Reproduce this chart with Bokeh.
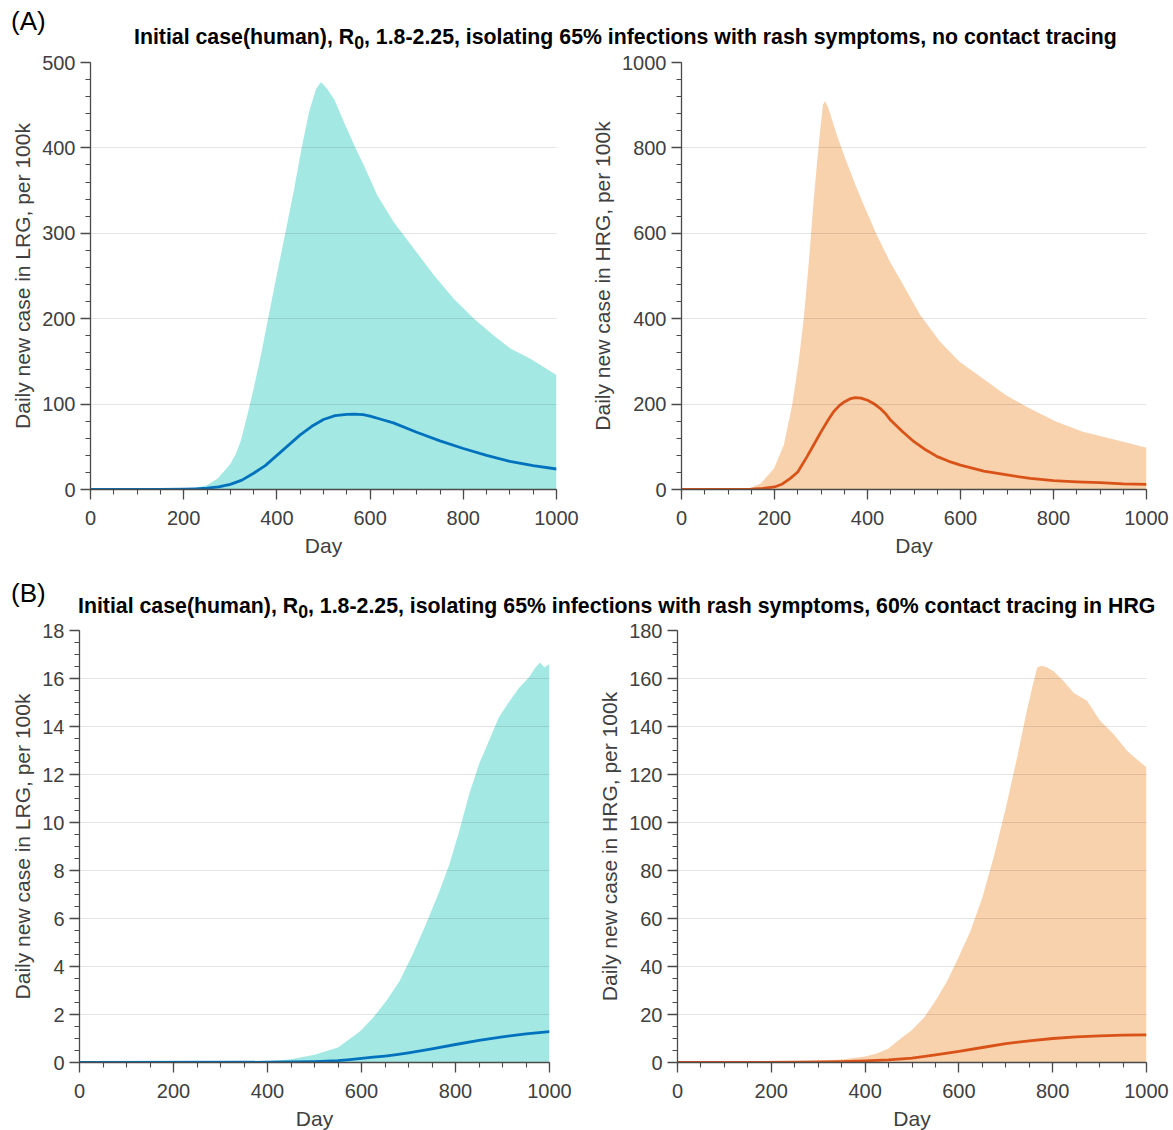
from bokeh.plotting import figure
from bokeh.layouts import column, row
from bokeh.models import Div, Range1d, FixedTicker
from bokeh.embed import file_html
from bokeh.resources import INLINE

# ---------------- data ----------------
# Panel A, LRG
a_lrg_band_day = [0, 100, 150, 200, 216, 250, 273, 300, 312, 323, 337, 350, 366, 381, 400, 418, 437, 453, 469, 484, 494,
                  500, 508, 523, 544, 566, 587, 616, 651, 694, 737, 780, 823, 866, 901, 944, 1000]
a_lrg_band_val = [0, 0, 0.2, 0.6, 1, 5, 13, 30, 42, 58, 88, 118, 158, 200, 252, 300, 352, 400, 442, 469, 477,
                  474, 469, 457, 430, 403, 379, 344, 313, 282, 251, 223, 200, 180, 165, 153, 134]
a_lrg_med_day = [0, 150, 200, 225, 250, 275, 300, 325, 350, 375, 400, 425, 450, 475, 500, 525, 550, 566, 585, 600,
                 625, 650, 700, 750, 800, 850, 900, 950, 1000]
a_lrg_med_val = [0, 0.1, 0.4, 0.8, 1.5, 3, 6, 11, 19, 28, 40, 52, 64, 74, 82, 86.5, 88, 88.3, 87.6, 86,
                 82, 78, 67, 57, 48, 40, 33, 28, 24]

# Panel A, HRG
a_hrg_band_day = [0, 100, 127, 150, 170, 199, 220, 238, 252, 263, 274, 284, 295, 304, 309, 316, 334, 352, 377, 398,
                  420, 448, 477, 513, 556, 598, 648, 698, 748, 805, 863, 920, 1000]
a_hrg_band_val = [0, 0, 1, 4, 14, 49, 104, 198, 299, 401, 534, 674, 807, 901, 909, 893, 830, 776, 705, 651,
                  596, 534, 479, 409, 346, 299, 260, 221, 190, 159, 135, 120, 98]
a_hrg_med_day = [0, 100, 150, 175, 200, 217, 234, 250, 270, 285, 300, 315, 327, 340, 350, 362, 373, 386, 400, 415,
                 427, 440, 450, 475, 500, 525, 550, 575, 600, 650, 700, 750, 800, 850, 900, 950, 1000]
a_hrg_med_val = [0, 0.1, 1, 2.5, 6, 13, 26, 41, 77, 106, 135, 162, 182, 197, 205, 212, 215, 214, 209, 200,
                 190, 176, 162, 136, 112, 93, 77, 66, 57, 43, 34, 26, 21, 18, 16, 13, 12]

# Panel B, LRG
b_lrg_band_day = [0, 300, 350, 400, 450, 500, 550, 597, 625, 653, 681, 709, 737, 766, 787, 808, 829, 850, 871, 892,
                  913, 935, 956, 970, 980, 989, 1000]
b_lrg_band_val = [0, 0.01, 0.02, 0.05, 0.14, 0.32, 0.63, 1.3, 1.88, 2.57, 3.40, 4.51, 5.76, 7.15, 8.26, 9.65,
                  11.18, 12.43, 13.40, 14.38, 15.0, 15.6, 16.04, 16.46, 16.67, 16.46, 16.6]
b_lrg_med_day = [0, 400, 450, 500, 550, 575, 600, 625, 650, 675, 700, 725, 750, 800, 850, 900, 950, 1000]
b_lrg_med_val = [0, 0.01, 0.02, 0.04, 0.08, 0.12, 0.17, 0.22, 0.27, 0.33, 0.4, 0.48, 0.57, 0.75, 0.92, 1.07, 1.19, 1.29]

# Panel B, HRG
b_hrg_band_day = [0, 200, 250, 300, 350, 400, 425, 450, 476, 500, 526, 550, 575, 599, 625, 650, 674, 700, 724, 742,
                  756, 767, 777, 788, 802, 823, 845, 873, 901, 930, 958, 979, 1000]
b_hrg_band_val = [0, 0.1, 0.3, 0.7, 1.3, 2.5, 3.8, 5.8, 10, 13.5, 18.75, 25.7, 34.0, 43.75, 54.9, 68.75, 85.4, 106,
                  127, 144, 156, 164.6, 165.3, 164.6, 163, 159, 154, 150.7, 142.4, 136.8, 130, 126.4, 123]
b_hrg_med_day = [0, 250, 300, 350, 400, 450, 500, 550, 600, 650, 700, 750, 800, 850, 900, 950, 1000]
b_hrg_med_val = [0, 0.1, 0.2, 0.4, 0.7, 1.1, 1.8, 3.2, 4.6, 6.25, 7.9, 9.0, 10.0, 10.7, 11.1, 11.4, 11.5]

x_ticks = [0, 200, 400, 600, 800, 1000]
x_minor = list(range(0, 1001, 50))

title_a = "Initial case(human), R<sub>0</sub>, 1.8-2.25, isolating 65% infections with rash symptoms, no contact tracing"
title_b = "Initial case(human), R<sub>0</sub>, 1.8-2.25, isolating 65% infections with rash symptoms, 60% contact tracing in HRG"

FONT = "Liberation Sans"
AX = "#4a4a4a"
LRG_FILL, LRG_LINE = "#a4e8e4", "#0072bd"
HRG_FILL, HRG_LINE = "#f8d1ad", "#d95319"


def make_fig(fw, fh, bl, br, bt, bb, ymax, ystep, yminor_step, ylabel,
             band_x, band_y, med_x, med_y, fill, line):
    p = figure(frame_width=fw, frame_height=fh,
               min_border_left=bl, min_border_right=br, min_border_top=bt, min_border_bottom=bb,
               x_range=Range1d(0, 1000), y_range=Range1d(0, ymax),
               output_backend="svg", toolbar_location=None)
    p.varea(x=band_x, y1=0, y2=band_y, fill_color=fill, fill_alpha=1.0)
    p.line(med_x, med_y, line_color=line, line_width=2.8, line_join="round")

    nmaj = int(round(ymax / ystep))
    yt = [i * ystep for i in range(nmaj + 1)]
    nmin = int(round(ymax / yminor_step))
    ym = [i * yminor_step for i in range(nmin + 1)]
    p.xaxis.ticker = FixedTicker(ticks=x_ticks, minor_ticks=x_minor)
    p.yaxis.ticker = FixedTicker(ticks=yt, minor_ticks=ym)

    for ax in (p.xaxis[0], p.yaxis[0]):
        ax.axis_line_color = AX
        ax.axis_line_width = 1.3
        ax.major_tick_line_color = AX
        ax.minor_tick_line_color = AX
        ax.major_tick_line_width = 1.3
        ax.minor_tick_line_width = 1.1
        ax.major_tick_out = 10
        ax.major_tick_in = 0
        ax.minor_tick_out = 5
        ax.minor_tick_in = 0
        ax.major_label_text_font = FONT
        ax.major_label_text_font_size = "20px"
        ax.major_label_text_color = "#404040"
        ax.axis_label_text_font = FONT
        ax.axis_label_text_font_size = "21px"
        ax.axis_label_text_font_style = "normal"
        ax.axis_label_text_color = "#404040"
    p.xaxis.axis_label = "Day"
    p.xaxis.major_label_standoff = 11
    p.xaxis.axis_label_standoff = 6
    p.yaxis.axis_label = ylabel
    p.yaxis.major_label_standoff = 5
    p.yaxis.axis_label_standoff = 5

    p.xgrid.visible = False
    p.ygrid.ticker = FixedTicker(ticks=yt)
    p.ygrid.grid_line_color = "black"
    p.ygrid.grid_line_alpha = 0.1
    p.ygrid.grid_line_width = 1.2
    p.ygrid.level = "overlay"
    p.outline_line_color = None
    p.background_fill_color = "white"
    p.border_fill_color = "white"
    return p


def header(label, title, height, label_top, title_top, title_left):
    html = (
        f'<div style="position:relative;width:1173px;height:{height}px;font-family:\'{FONT}\',Arial,sans-serif;color:#000;">'
        f'<span style="position:absolute;left:11px;top:{label_top}px;font-size:26px;white-space:nowrap;">{label}</span>'
        f'<span style="position:absolute;left:{title_left}px;top:{title_top}px;font-size:21.3px;font-weight:bold;'
        f'white-space:nowrap;">{title}</span></div>'
    )
    return Div(text=html, width=1173, height=height, margin=(0, 0, 0, 0))


fa1 = make_fig(466, 427, 90, 30, 12, 71, 500, 100, 20, "Daily new case in LRG, per 100k",
               a_lrg_band_day, a_lrg_band_val, a_lrg_med_day, a_lrg_med_val, LRG_FILL, LRG_LINE)
fa2 = make_fig(465, 427, 95, 27, 12, 71, 1000, 200, 40, "Daily new case in HRG, per 100k",
               a_hrg_band_day, a_hrg_band_val, a_hrg_med_day, a_hrg_med_val, HRG_FILL, HRG_LINE)
fb1 = make_fig(470, 432, 79, 30, 10, 68, 18, 2, 0.5, "Daily new case in LRG, per 100k",
               b_lrg_band_day, b_lrg_band_val, b_lrg_med_day, b_lrg_med_val, LRG_FILL, LRG_LINE)
fb2 = make_fig(469, 432, 98, 27, 10, 68, 180, 20, 5, "Daily new case in HRG, per 100k",
               b_hrg_band_day, b_hrg_band_val, b_hrg_med_day, b_hrg_med_val, HRG_FILL, HRG_LINE)

head_a = header("(A)", title_a, 50, 3, 22, 134)
head_b = header("(B)", title_b, 60, 15, 31, 78)

layout = column(head_a, row(fa1, fa2), head_b, row(fb1, fb2), spacing=0)

open("out.html", "w").write(file_html(layout, INLINE))
